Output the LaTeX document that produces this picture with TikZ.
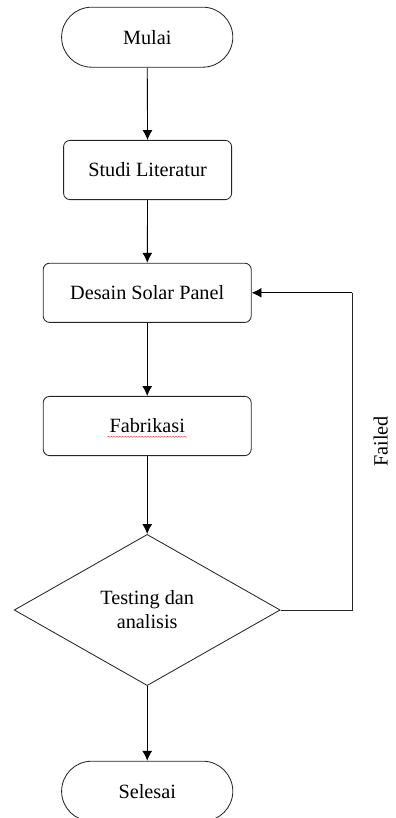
\documentclass[tikz,border=0pt]{standalone}
\usepackage{fontspec}
\setmainfont{Liberation Serif}
\usetikzlibrary{arrows.meta}
\usetikzlibrary{shapes.geometric}
\usetikzlibrary{decorations.pathmorphing}
\pgfdeclarelayer{edgelayer}
\pgfdeclarelayer{nodelayer}
\pgfsetlayers{edgelayer,nodelayer,main}
\tikzstyle{terminal}=[rectangle,rounded corners=0.75cm,fill=white,draw=black!85,line width=0.6pt,minimum width=4.28cm,minimum height=1.5cm,font=\fontsize{14.4}{17}\selectfont]
\tikzstyle{process}=[rectangle,rounded corners=0.16cm,fill=white,draw=black!85,line width=0.6pt,minimum height=1.48cm,font=\fontsize{14.4}{17}\selectfont]
\tikzstyle{decision}=[diamond,aspect=1.76,inner sep=0pt,fill=white,draw=black!85,line width=0.6pt,minimum width=6.65cm,minimum height=3.78cm,align=center,font=\fontsize{14.4}{17}\selectfont]
\tikzstyle{transition}=[-{Latex[length=7pt,width=7pt]},draw=black,line width=0.6pt]
\tikzstyle{line}=[draw=black!85,line width=0.6pt]

\begin{document}
\begin{tikzpicture}
	\useasboundingbox (0, 0) rectangle (9.875, -20.45);
	\begin{pgfonlayer}{nodelayer}
		\node [style=terminal] (0) at (3.68, -0.93) {Mulai};
		\node [style=process, minimum width=4.2cm] (1) at (3.69, -4.25) {Studi Literatur};
		\node [style=process, minimum width=5.2cm] (2) at (3.68, -7.32) {Desain Solar Panel};
		\node [style=process, minimum width=5.2cm] (3) at (3.68, -10.65) {Fabrikasi};
		\node [style=decision] (4) at (3.68, -15.25) {Testing dan\\analisis};
		\node [style=terminal] (5) at (3.68, -19.78) {Selesai};
		\coordinate (6) at (8.8, -15.25);
		\coordinate (7) at (8.8, -7.32);
		\node [rotate=90, font=\fontsize{14.4}{17}\selectfont] (8) at (9.52, -11.03) {Failed};
	\end{pgfonlayer}
	\begin{pgfonlayer}{edgelayer}
		\draw [style=transition] (0) to (1);
		\draw [style=transition] (1) to (2);
		\draw [style=transition] (2) to (3);
		\draw [style=transition] (3) to (4);
		\draw [style=transition] (4) to (5);
		\draw [style=line] (4.east) to (6) to (7);
		\draw [style=transition] (7) to (2.east);
	\end{pgfonlayer}
	% spell-check underline
	\draw [red!80, line width=0.3pt, decorate, decoration={snake, amplitude=0.35pt, segment length=2pt}] ([xshift=-0.99cm, yshift=-0.27cm]3.center) to ([xshift=0.99cm, yshift=-0.27cm]3.center);
\end{tikzpicture}
\end{document}
